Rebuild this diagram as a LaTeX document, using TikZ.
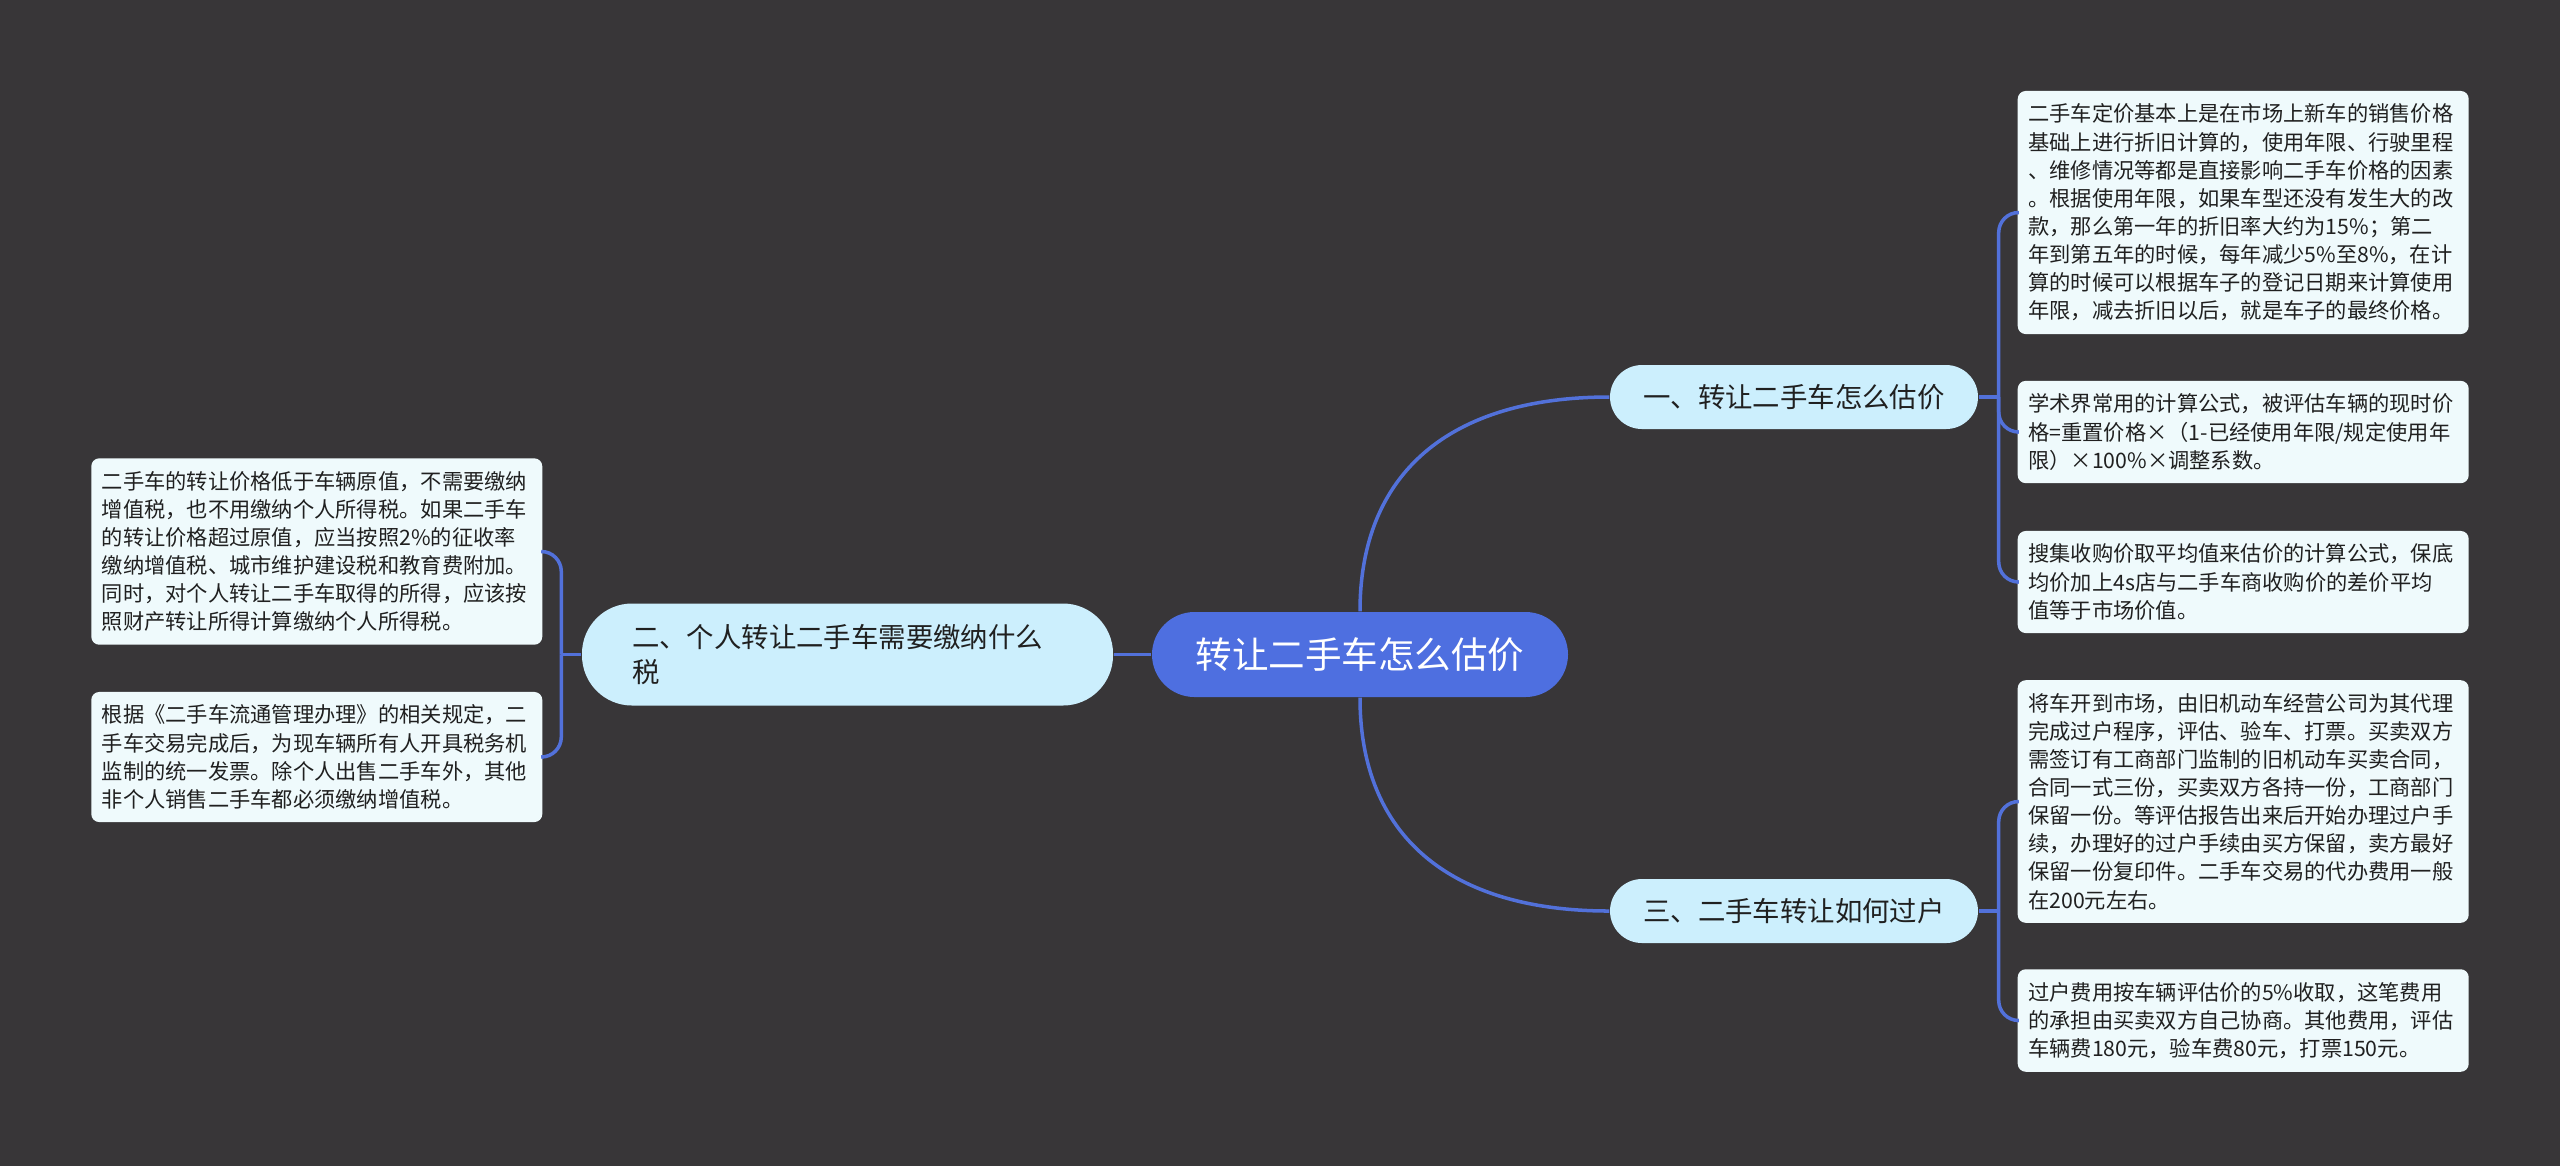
\documentclass[tikz,border=0pt]{standalone}
\usepackage{fontspec}
\setmainfont{Noto Sans CJK SC}
\definecolor{bgc}{HTML}{383638}
\definecolor{rootc}{HTML}{4E6FE0}
\definecolor{linkc}{HTML}{5271DA}
\definecolor{subc}{HTML}{CCEFFD}
\definecolor{leafc}{HTML}{EFFAFC}
\definecolor{txtc}{HTML}{202020}

\tikzset{
  topic/.style={fill=rootc, text=white, rounded corners=0.425cm, inner sep=0pt,
    minimum width=4.16cm, minimum height=0.85cm, font=\fontsize{10.4pt}{12pt}\selectfont},
  subtopic/.style={fill=subc, text=txtc, rounded corners=0.32cm, inner sep=0pt,
    minimum width=3.68cm, minimum height=0.64cm, font=\fontsize{7.8pt}{10pt}\selectfont},
  leaf/.style={fill=leafc, text=txtc, rounded corners=0.08cm, text width=4.3cm, align=left,
    inner xsep=0.105cm, inner ysep=0.13cm, font=\fontsize{6.05pt}{8pt}\selectfont},
  link/.style={draw=linkc, line width=1pt},
}

\begin{document}
\begin{tikzpicture}

\useasboundingbox (0,0) rectangle (25.6,-11.65);
\fill[bgc] (-0.1,0.1) rectangle (25.7,-11.75);

\node [topic] (root) at (13.60,-6.545) {转让二手车怎么估价};

\node [subtopic] (gujia) at (17.94,-3.97) {一、转让二手车怎么估价};
\node [subtopic] (guohu) at (17.94,-9.11) {三、二手车转让如何过户};
\node [subtopic, minimum width=5.31cm, minimum height=1.02cm, rounded corners=0.5cm,
  text width=4.31cm, align=left] (shuifei) at (8.475,-6.545)
  {二、个人转让二手车需要缴纳什么\\税};

% right side
\node [leaf, anchor=west] (gujiaA) at (20.17,-2.125)
  {二手车定价基本上是在市场上新车的销售价格\\
  基础上进行折旧计算的，使用年限、行驶里程\\
  、维修情况等都是直接影响二手车价格的因素\\
  。根据使用年限，如果车型还没有发生大的改\\
  款，那么第一年的折旧率大约为15\%；第二\\
  年到第五年的时候，每年减少5\%至8\%，在计\\
  算的时候可以根据车子的登记日期来计算使用\\
  年限，减去折旧以后，就是车子的最终价格。};
\node [leaf, anchor=west] (gujiaB) at (20.17,-4.32)
  {学术界常用的计算公式，被评估车辆的现时价\\
  格=重置价格×（1-已经使用年限/规定使用年\\
  限）×100\%×调整系数。};
\node [leaf, anchor=west] (gujiaC) at (20.17,-5.82)
  {搜集收购价取平均值来估价的计算公式，保底\\
  均价加上4s店与二手车商收购价的差价平均\\
  值等于市场价值。};
\node [leaf, anchor=west] (guohuA) at (20.17,-8.015)
  {将车开到市场，由旧机动车经营公司为其代理\\
  完成过户程序，评估、验车、打票。买卖双方\\
  需签订有工商部门监制的旧机动车买卖合同，\\
  合同一式三份，买卖双方各持一份，工商部门\\
  保留一份。等评估报告出来后开始办理过户手\\
  续，办理好的过户手续由买方保留，卖方最好\\
  保留一份复印件。二手车交易的代办费用一般\\
  在200元左右。};
\node [leaf, anchor=west] (guohuB) at (20.17,-10.205)
  {过户费用按车辆评估价的5\%收取，这笔费用\\
  的承担由买卖双方自己协商。其他费用，评估\\
  车辆费180元，验车费80元，打票150元。};

% left side
\node [leaf, anchor=east] (shuiA) at (5.43,-5.515)
  {二手车的转让价格低于车辆原值，不需要缴纳\\
  增值税，也不用缴纳个人所得税。如果二手车\\
  的转让价格超过原值，应当按照2\%的征收率\\
  缴纳增值税、城市维护建设税和教育费附加。\\
  同时，对个人转让二手车取得的所得，应该按\\
  照财产转让所得计算缴纳个人所得税。};
\node [leaf, anchor=east] (shuiB) at (5.43,-7.57)
  {根据《二手车流通管理办理》的相关规定，二\\
  手车交易完成后，为现车辆所有人开具税务机\\
  监制的统一发票。除个人出售二手车外，其他\\
  非个人销售二手车都必须缴纳增值税。};

\draw[link] (root.west) -- (shuifei.east);
\draw[link] (root.north) .. controls +(0,1.38) and +(-1.6,0) .. (gujia.west);
\draw[link] (root.south) .. controls +(0,-1.38) and +(-1.6,0) .. (guohu.west);

\draw[link] (gujia.east) -- ++(0.2,0) coordinate (gujiaJ);
\foreach \n in {gujiaA,gujiaB,gujiaC}
  \draw[link, rounded corners=0.2cm] (gujiaJ) |- (\n.west);

\draw[link] (guohu.east) -- ++(0.2,0) coordinate (guohuJ);
\foreach \n in {guohuA,guohuB}
  \draw[link, rounded corners=0.2cm] (guohuJ) |- (\n.west);

\draw[link] (shuifei.west) -- ++(-0.2,0) coordinate (shuiJ);
\foreach \n in {shuiA,shuiB}
  \draw[link, rounded corners=0.2cm] (shuiJ) |- (\n.east);

\end{tikzpicture}
\end{document}
